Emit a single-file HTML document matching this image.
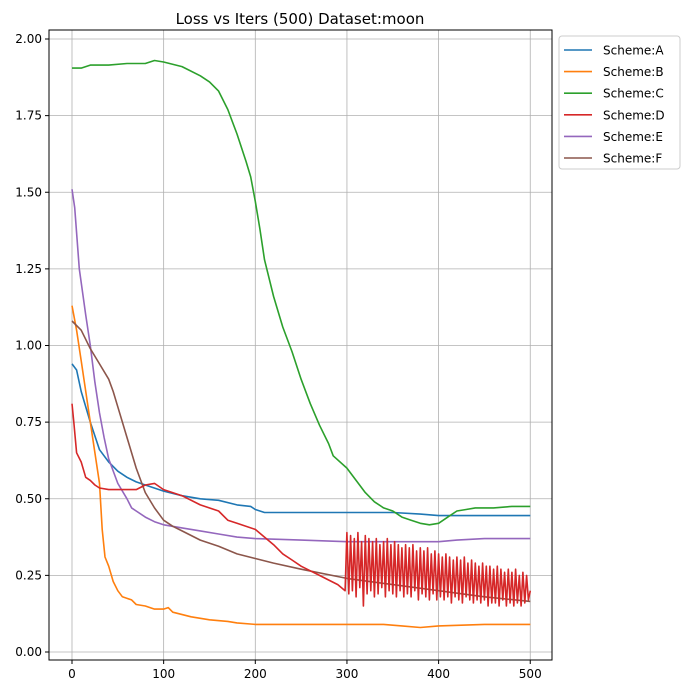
<!DOCTYPE html>
<html><head><meta charset="utf-8"><style>
body{margin:0;background:#fff;font-family:"Liberation Sans","DejaVu Sans",sans-serif}
svg text{font-family:"DejaVu Sans","Liberation Sans",sans-serif}
</style></head><body>
<svg id="chart" width="690" height="690" viewBox="0 0 690 690" xmlns="http://www.w3.org/2000/svg">
<rect width="690" height="690" fill="#fff"/>
<text x="300" y="24" text-anchor="middle" font-size="15">Loss vs Iters (500) Dataset:moon</text>
<g id="grid"></g><g id="series"></g>
<rect x="49" y="30" width="503" height="630" fill="none" stroke="#000" stroke-width="1"/>
<g id="ticks"></g><g id="legend"></g>
</svg>
<script>
const xTicks=[0,100,200,300,400,500];
const yTicks=[0,0.25,0.5,0.75,1.0,1.25,1.5,1.75,2.0];
const yTickLabels=["0.00","0.25","0.50","0.75","1.00","1.25","1.50","1.75","2.00"];
const seriesNames=["Scheme:A","Scheme:B","Scheme:C","Scheme:D","Scheme:E","Scheme:F"];
const colors=["#1f77b4","#ff7f0e","#2ca02c","#d62728","#9467bd","#8c564b"];
const aIters=[0,5,10,20,30,40,50,60,70,80,100,120,140,160,180,195,200,210,250,300,350,380,400,450,500];
const aVals=[0.94,0.92,0.85,0.75,0.66,0.62,0.59,0.57,0.555,0.545,0.525,0.51,0.5,0.495,0.48,0.475,0.465,0.455,0.455,0.455,0.455,0.45,0.445,0.445,0.445];
const bIters=[0,5,10,20,25,30,33,36,40,45,50,55,65,70,80,90,100,105,110,130,150,170,180,200,300,340,360,380,400,450,500];
const bVals=[1.13,1.05,0.95,0.75,0.65,0.55,0.4,0.31,0.28,0.23,0.2,0.18,0.17,0.155,0.15,0.14,0.14,0.145,0.13,0.115,0.105,0.1,0.095,0.09,0.09,0.09,0.085,0.08,0.085,0.09,0.09];
const cIters=[0,10,20,40,60,80,90,100,120,140,150,160,170,180,190,195,200,205,210,220,230,240,250,260,270,280,285,300,310,320,330,340,350,360,370,380,390,400,405,410,420,430,440,460,480,500];
const cVals=[1.905,1.905,1.915,1.915,1.92,1.92,1.93,1.925,1.91,1.88,1.86,1.83,1.77,1.69,1.6,1.55,1.47,1.38,1.28,1.16,1.06,0.98,0.89,0.81,0.74,0.68,0.64,0.6,0.56,0.52,0.49,0.47,0.46,0.44,0.43,0.42,0.415,0.42,0.43,0.44,0.46,0.465,0.47,0.47,0.475,0.475];
const dIters=[0,2,5,10,15,20,25,30,40,60,70,80,90,100,120,140,160,170,180,200,210,220,230,240,250,260,270,280,290,298];
const dVals=[0.81,0.75,0.65,0.62,0.57,0.56,0.545,0.535,0.53,0.53,0.53,0.545,0.55,0.53,0.51,0.48,0.46,0.43,0.42,0.4,0.375,0.35,0.32,0.3,0.28,0.265,0.25,0.235,0.22,0.2];
const dNoiseStart=300, dNoiseStep=2;
const dNoise=[0.39,0.19,0.38,0.2,0.37,0.18,0.39,0.21,0.36,0.15,0.38,0.19,0.37,0.2,0.36,0.18,0.37,0.19,0.35,0.21,
0.36,0.18,0.37,0.2,0.35,0.19,0.36,0.18,0.35,0.2,0.34,0.18,0.35,0.19,0.34,0.18,0.35,0.2,0.33,0.17,
0.34,0.19,0.33,0.18,0.34,0.17,0.32,0.19,0.33,0.17,0.32,0.18,0.31,0.17,0.32,0.18,0.31,0.16,0.3,0.18,
0.31,0.17,0.3,0.16,0.31,0.18,0.29,0.17,0.3,0.16,0.29,0.17,0.28,0.16,0.29,0.17,0.28,0.15,0.28,0.16,
0.27,0.16,0.28,0.15,0.27,0.17,0.26,0.15,0.27,0.16,0.26,0.15,0.27,0.16,0.25,0.15,0.26,0.16,0.25,0.17,0.2];
const eIters=[0,3,8,15,20,25,30,35,40,50,60,65,70,80,90,100,120,140,160,180,200,250,300,350,400,420,450,500];
const eVals=[1.51,1.45,1.25,1.1,1.0,0.88,0.78,0.7,0.63,0.55,0.5,0.47,0.46,0.44,0.425,0.415,0.405,0.395,0.385,0.375,0.37,0.365,0.36,0.36,0.36,0.365,0.37,0.37];
const fIters=[0,10,20,30,40,45,50,60,70,80,90,100,110,120,140,160,180,200,220,250,300,350,400,450,500];
const fVals=[1.08,1.05,0.99,0.94,0.89,0.85,0.8,0.7,0.6,0.52,0.47,0.43,0.41,0.395,0.365,0.345,0.32,0.305,0.29,0.27,0.24,0.22,0.2,0.18,0.165];

const X=v=>72+v*0.9165;
const Y=v=>652-v*306.5;
const NS="http://www.w3.org/2000/svg";
function mk(tag,attrs,parent){const e=document.createElementNS(NS,tag);for(const k in attrs)e.setAttribute(k,attrs[k]);parent.appendChild(e);return e;}
const grid=document.getElementById('grid'),ticks=document.getElementById('ticks'),ser=document.getElementById('series'),leg=document.getElementById('legend');
xTicks.forEach(t=>{
  const g=mk('line',{x1:X(t),x2:X(t),y1:30,y2:660,stroke:'#b0b0b0','stroke-width':0.8},grid);
  
  
  mk('line',{x1:X(t),x2:X(t),y1:660,y2:664,stroke:'#000'},ticks);
  const l=mk('text',{x:X(t),y:678,'text-anchor':'middle','font-size':12},ticks);
  l.textContent=t;
  
  
});
yTicks.forEach((t,i)=>{
  const g=mk('line',{x1:49,x2:552,y1:Y(t),y2:Y(t),stroke:'#b0b0b0','stroke-width':0.8},grid);
  
  
  mk('line',{x1:45,x2:49,y1:Y(t),y2:Y(t),stroke:'#000'},ticks);
  const l=mk('text',{x:42,y:Y(t)+4,'text-anchor':'end','font-size':12},ticks);
  l.textContent=yTickLabels[i];
  
  
});
const dAllIters=dIters.concat(dNoise.map((v,i)=>dNoiseStart+i*dNoiseStep));
const dAllVals=dVals.concat(dNoise);
const data=[[aIters,aVals],[bIters,bVals],[cIters,cVals],[dAllIters,dAllVals],[eIters,eVals],[fIters,fVals]];
const order=[0,1,2,4,5,3];
order.forEach(k=>{
  const [it,vs]=data[k];
  const p=mk('polyline',{points:it.map((x,i)=>X(x).toFixed(1)+','+Y(vs[i]).toFixed(1)).join(' '),fill:'none',stroke:colors[k],'stroke-width':1.6,'stroke-linejoin':'round'},ser);
  
  
});
const box=mk('rect',{x:559,y:36,width:121,height:133,rx:3,fill:'#fff',stroke:'#ccc'},leg);


seriesNames.forEach((n,i)=>{
  const y=50+i*21.6;
  mk('line',{x1:564,x2:592,y1:y,y2:y,stroke:colors[i],'stroke-width':1.6},leg);
  const t=mk('text',{x:603,y:y+4.5,'font-size':12},leg);
  t.textContent=n;
  
  
});
</script>
</body></html>
